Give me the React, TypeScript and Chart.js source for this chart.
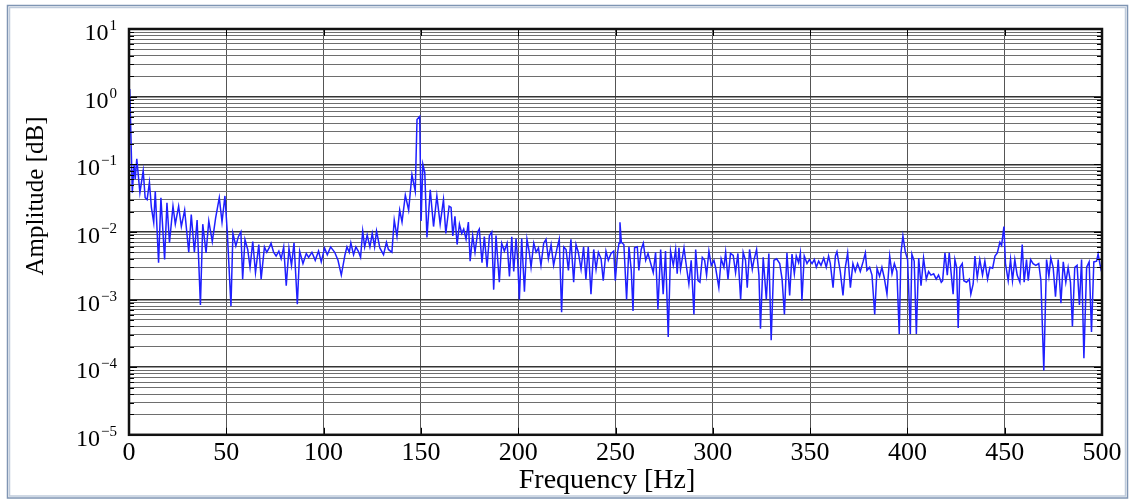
import React, { useEffect, useRef } from "react";
import { Chart, registerables } from "chart.js";

Chart.register(...registerables);

// ---- data ----
const freqHz: number[] = [
  0.4, 1.7, 2.6, 3.2, 4, 5.6, 7.3, 8.3, 9.3, 10.5, 11.5, 12.7, 13.5, 15.2, 16.4, 18.3, 19.5, 20.8, 22.6, 23.8,
  25.5, 26.9, 28.6, 30.7, 32, 33.6, 35, 36.7, 37.9, 39.6, 41, 42.8, 44.5, 46.4, 47.8, 49.3, 50.5, 52.4, 53.4, 54.9,
  56.2, 57.5, 58.4, 59.6, 61, 62.2, 63.6, 65, 66.7, 67.9, 69.6, 70.8, 72, 73, 74.3, 75.6, 77, 78.2, 79.5, 80.8,
  82.2, 83.5, 84.8, 86.5, 87.7, 89.4, 91.1, 92.3, 94, 95.7, 97.4, 98.8, 100.5, 101.9, 103.6, 105.7, 107.4, 109.1, 111, 112,
  113.2, 114, 115.4, 116.6, 117.8, 119, 120.1, 121.1, 122.4, 123.8, 125, 126.2, 127.2, 128.9, 130.8, 132.3, 133.3, 135.1, 136.3, 137.7,
  139.1, 140.3, 142, 143.7, 145.4, 147.1, 148, 149.4, 150.1, 151, 152, 153.1, 154.8, 156.5, 158.2, 159.9, 161.6, 162.8, 164.5, 165.5,
  166.4, 167.5, 168.6, 169.8, 171, 172, 173.2, 174.4, 175.3, 176.6, 177.8, 179.2, 180, 181.4, 182.6, 184, 185.2, 186.4, 187.4, 188.6,
  190.3, 191.5, 192.9, 194.3, 195.5, 196.7, 197.7, 198.9, 199.7, 200.6, 201.8, 203.2, 204.5, 205.7, 206.6, 208, 209.2, 210.4, 211.7, 213.1,
  214.3, 215.5, 216.9, 218.2, 220, 221.1, 222.3, 223.4, 224.6, 225.8, 227.1, 228.5, 229.7, 230.9, 232.3, 233.6, 234.8, 236, 237.4, 238.8,
  240, 241.2, 242.6, 243.7, 245.1, 246.3, 247.7, 249.1, 249.9, 251.1, 251.8, 252.3, 253, 254.3, 255.7, 256.9, 258.1, 259, 259.8, 261.2,
  262, 263.2, 264.3, 265.5, 266.7, 268, 269.4, 270.6, 271.8, 273.2, 274.5, 275.7, 277.1, 278.3, 279.7, 280.9, 281.7, 282.6, 283.4, 285.2,
  286.5, 287.7, 288.9, 290.3, 291.2, 292.4, 293.4, 294.6, 295.8, 296.8, 298, 299.2, 300.6, 301.4, 303.1, 304.3, 305.7, 306.6, 307.8, 309.1,
  310.5, 311.7, 312.9, 314.3, 315.6, 316.8, 317.7, 318.9, 320.3, 321.1, 322.5, 323.7, 324.5, 325.9, 327.5, 328.8, 330, 331.4, 332.8, 334.4,
  335.6, 336.8, 338.1, 339.5, 340.7, 341.9, 342.9, 344.1, 345, 345.8, 347, 348.4, 349.6, 351, 352.2, 353.2, 354.4, 355.6, 357, 358.3,
  359.5, 360.4, 361.8, 363, 363.8, 365.5, 366.9, 368.1, 369.3, 370.7, 372, 373.2, 374.4, 375.8, 377.2, 378.4, 379.2, 380.6, 381.8, 383.2,
  384.4, 385.7, 386.9, 388.1, 389.5, 390.9, 392.1, 393.3, 394.6, 395.8, 396.7, 397.7, 398.9, 400.1, 401.5, 402.3, 403.5, 404.6, 405.8, 407,
  408.3, 409.7, 410.9, 412.1, 413.5, 414.8, 416, 417.4, 418.1, 419.3, 420.5, 421.5, 422.7, 423.5, 424.4, 425.3, 426.1, 427, 428.2, 429,
  430.4, 431.8, 432.6, 433.8, 434.7, 435.9, 437.2, 438.6, 439.8, 441.2, 442.4, 443.8, 445, 446.2, 447.5, 448.4, 449.6, 450.4, 451.8, 453,
  454, 455.2, 456.4, 457.8, 459, 460, 461.2, 462.1, 463.3, 464.6, 466, 467.5, 468.6, 470.1, 471.5, 472.7, 473.7, 474.9, 476.1, 477.5,
  478.9, 480.1, 481.4, 482.6, 483.8, 484.8, 486, 487.2, 488.4, 489.5, 490.7, 492.1, 493.4, 494.6, 495.8, 497.2, 498, 498.9, 499.7,
];

const amplitude: number[] = [
  1.3, 0.038, 0.1, 0.06, 0.12, 0.038, 0.08, 0.032, 0.03, 0.054, 0.023, 0.0138, 0.04, 0.0035, 0.032, 0.0039, 0.027, 0.0069, 0.024, 0.013,
  0.024, 0.012, 0.021, 0.005, 0.018, 0.005, 0.015, 0.00083, 0.013, 0.0049, 0.0145, 0.0072, 0.016, 0.032, 0.014, 0.034, 0.01, 0.0008, 0.0095, 0.0062,
  0.0085, 0.01, 0.002, 0.0077, 0.0055, 0.003, 0.0072, 0.0025, 0.0065, 0.002, 0.006, 0.005, 0.0058, 0.0068, 0.005, 0.0044, 0.0052, 0.004, 0.006, 0.0016,
  0.0057, 0.0032, 0.0069, 0.00085, 0.0052, 0.0034, 0.0048, 0.0042, 0.005, 0.0038, 0.0052, 0.0036, 0.0058, 0.0046, 0.006, 0.005, 0.0038, 0.0023, 0.0046, 0.006,
  0.005, 0.0069, 0.0046, 0.006, 0.0052, 0.0042, 0.0103, 0.006, 0.009, 0.006, 0.0095, 0.006, 0.0103, 0.0058, 0.0046, 0.007, 0.0055, 0.005, 0.015, 0.0086,
  0.021, 0.014, 0.035, 0.021, 0.07, 0.04, 0.46, 0.51, 0.0145, 0.1, 0.075, 0.0083, 0.042, 0.012, 0.034, 0.013, 0.03, 0.0095, 0.024, 0.023,
  0.0087, 0.017, 0.0065, 0.013, 0.0095, 0.011, 0.0078, 0.014, 0.0037, 0.0088, 0.005, 0.01, 0.011, 0.0035, 0.0085, 0.003, 0.0088, 0.01, 0.0014, 0.0088,
  0.0018, 0.0068, 0.0052, 0.0068, 0.0022, 0.0085, 0.0026, 0.008, 0.004, 0.001, 0.008, 0.0013, 0.0078, 0.005, 0.003, 0.0068, 0.005, 0.0058, 0.0032, 0.0068,
  0.0078, 0.004, 0.0065, 0.0032, 0.0058, 0.0078, 0.00065, 0.006, 0.0055, 0.0027, 0.0078, 0.0018, 0.0065, 0.005, 0.0028, 0.006, 0.002, 0.006, 0.0012, 0.0055,
  0.0028, 0.005, 0.004, 0.0019, 0.0052, 0.0038, 0.0048, 0.0052, 0.0019, 0.005, 0.0068, 0.0139, 0.007, 0.0065, 0.001, 0.006, 0.0027, 0.00068, 0.0058, 0.006,
  0.0027, 0.0055, 0.0068, 0.0038, 0.0048, 0.0035, 0.0025, 0.005, 0.00072, 0.0055, 0.0012, 0.0052, 0.00028, 0.0052, 0.0032, 0.0055, 0.0024, 0.0058, 0.0028, 0.0058,
  0.003, 0.0017, 0.0038, 0.0006, 0.0055, 0.0019, 0.0018, 0.0042, 0.0038, 0.0023, 0.0052, 0.0032, 0.0038, 0.003, 0.0015, 0.004, 0.003, 0.005, 0.002, 0.0048,
  0.0045, 0.0025, 0.0048, 0.001, 0.005, 0.0038, 0.0015, 0.0055, 0.0028, 0.0038, 0.0055, 0.0023, 0.00037, 0.0042, 0.001, 0.0048, 0.00025, 0.0038, 0.004, 0.0034,
  0.002, 0.0006, 0.0049, 0.00115, 0.0047, 0.0024, 0.0044, 0.0035, 0.0049, 0.00097, 0.0044, 0.0034, 0.0039, 0.0034, 0.0039, 0.003, 0.0037, 0.0032, 0.0041, 0.003,
  0.0044, 0.0034, 0.0015, 0.0044, 0.0051, 0.0026, 0.00115, 0.003, 0.0049, 0.0015, 0.0034, 0.0026, 0.0034, 0.0026, 0.0036, 0.0049, 0.0027, 0.003, 0.0023, 0.0006,
  0.0029, 0.0022, 0.003, 0.0021, 0.0012, 0.0044, 0.0024, 0.0034, 0.0026, 0.00031, 0.0049, 0.0087, 0.0051, 0.0039, 0.00031, 0.0047, 0.0037, 0.00031, 0.0041, 0.0016,
  0.0041, 0.002, 0.0026, 0.0023, 0.0024, 0.002, 0.0023, 0.0018, 0.0019, 0.0049, 0.0023, 0.0049, 0.0021, 0.0012, 0.0039, 0.003, 0.00038, 0.003, 0.0034, 0.0019,
  0.0018, 0.002, 0.0012, 0.0017, 0.0044, 0.0021, 0.0039, 0.0023, 0.0037, 0.002, 0.003, 0.0029, 0.0044, 0.0049, 0.007, 0.0063, 0.012, 0.0034, 0.0019, 0.0039,
  0.0019, 0.0039, 0.0023, 0.0018, 0.0065, 0.0018, 0.0039, 0.0019, 0.0039, 0.0034, 0.0032, 0.0034, 0.0019, 0.000089, 0.0039, 0.0022, 0.0041, 0.003, 0.0011, 0.0039,
  0.00088, 0.0036, 0.0018, 0.003, 0.0018, 0.0004, 0.003, 0.0032, 0.00083, 0.0039, 0.000135, 0.003, 0.0036, 0.00033, 0.0036, 0.0037, 0.0047, 0.0034, 0.0026,
];

const xTickValues: number[] = [0, 50, 100, 150, 200, 250, 300, 350, 400, 450, 500];
const yDecadeExponents: number[] = [-5, -4, -3, -2, -1, 0, 1];
const yMantissas: number[] = [1, 2, 3, 4, 5, 6, 7, 8, 9];
const xAxisTitle = "Frequency [Hz]";
const yAxisTitle = "Amplitude [dB]";

const SERIF = '"Liberation Serif", "Times New Roman", serif';

const yGridValues: number[] = [];
yDecadeExponents.forEach((e) => {
  if (e === yDecadeExponents[yDecadeExponents.length - 1]) {
    yGridValues.push(Math.pow(10, e));
  } else {
    yMantissas.forEach((m) => yGridValues.push(m * Math.pow(10, e)));
  }
});

const isDecade = (v: number) => {
  const l = Math.log10(v);
  return Math.abs(l - Math.round(l)) < 1e-6;
};

const decorPlugin = {
  id: "decor",
  beforeDraw(chart: any) {
    const ctx = chart.ctx;
    ctx.save();
    ctx.fillStyle = "#ffffff";
    ctx.fillRect(0, 0, chart.width, chart.height);
    // outer picture frame
    ctx.strokeStyle = "#7f95b3";
    ctx.lineWidth = 1.5;
    ctx.strokeRect(7.5, 5.5, 1120, 492.5);
    ctx.strokeStyle = "#bfcbdb";
    ctx.lineWidth = 1.5;
    ctx.strokeRect(9.5, 7.5, 1116, 488.5);
    ctx.restore();
  },
  afterDraw(chart: any) {
    const ctx = chart.ctx;
    const area = chart.chartArea;
    const yScale = chart.scales.y;
    const xScale = chart.scales.x;
    ctx.save();
    // inward tick marks
    ctx.strokeStyle = "#000";
    ctx.lineWidth = 1;
    yGridValues.forEach((v) => {
      const y = Math.round(yScale.getPixelForValue(v)) + 0.5;
      const len = isDecade(v) ? 8 : 5;
      ctx.beginPath();
      ctx.moveTo(area.left, y);
      ctx.lineTo(area.left + len, y);
      ctx.moveTo(area.right, y);
      ctx.lineTo(area.right - len, y);
      ctx.stroke();
    });
    xTickValues.forEach((v) => {
      const x = Math.round(xScale.getPixelForValue(v)) + 0.5;
      ctx.beginPath();
      ctx.moveTo(x, area.top);
      ctx.lineTo(x, area.top + 7);
      ctx.moveTo(x, area.bottom);
      ctx.lineTo(x, area.bottom - 7);
      ctx.stroke();
    });
    // plot frame
    ctx.lineWidth = 2.5;
    ctx.strokeStyle = "#111";
    ctx.strokeRect(area.left, area.top, area.right - area.left, area.bottom - area.top);

    // y tick labels with superscript exponents
    ctx.fillStyle = "#000";
    ctx.textBaseline = "alphabetic";
    yDecadeExponents.forEach((e) => {
      const y = yScale.getPixelForValue(Math.pow(10, e));
      const expText = e < 0 ? "\u2212" + Math.abs(e) : String(e);
      ctx.font = `15px ${SERIF}`;
      const expW = ctx.measureText(expText).width;
      const rightEdge = 117;
      ctx.textAlign = "right";
      ctx.fillText(expText, rightEdge, y + 1);
      ctx.font = `24px ${SERIF}`;
      ctx.fillText("10", rightEdge - expW - 1, y + 11);
    });

    // axis titles
    ctx.textAlign = "center";
    ctx.textBaseline = "middle";
    ctx.font = `28px ${SERIF}`;
    ctx.fillText(xAxisTitle, 607, 481);
    ctx.save();
    ctx.translate(36, 196);
    ctx.rotate(-Math.PI / 2);
    ctx.font = `25px ${SERIF}`;
    ctx.fillText(yAxisTitle, 0, 0);
    ctx.restore();
    ctx.restore();
  },
};

export default function App() {
  const canvasRef = useRef<HTMLCanvasElement | null>(null);

  useEffect(() => {
    document.body.style.margin = "0";
    const canvas = canvasRef.current;
    if (!canvas) return;
    const points = freqHz.map((f, i) => ({ x: f, y: amplitude[i] }));
    const chart = new Chart(canvas, {
      type: "line",
      data: {
        datasets: [
          {
            data: points,
            borderColor: "#1f1fff",
            borderWidth: 1.5,
            pointRadius: 0,
            tension: 0,
            fill: false,
          },
        ],
      },
      options: {
        animation: false,
        responsive: false,
        maintainAspectRatio: false,
        layout: { padding: { left: 129, top: 29, right: 33, bottom: 28 } },
        plugins: { legend: { display: false }, tooltip: { enabled: false } },
        scales: {
          x: {
            type: "linear",
            min: 0,
            max: 500,
            afterBuildTicks: (s: any) => {
              s.ticks = xTickValues.map((v) => ({ value: v }));
            },
            grid: { color: "#555", lineWidth: 1, drawTicks: false },
            border: { display: false },
            ticks: {
              color: "#000",
              font: { family: SERIF, size: 26 },
              padding: 3,
              maxRotation: 0,
              autoSkip: false,
            },
          },
          y: {
            type: "logarithmic",
            min: 1e-5,
            max: 10,
            afterBuildTicks: (s: any) => {
              s.ticks = yGridValues.map((v) => ({ value: v }));
            },
            grid: {
              color: (c: any) => (c.tick && isDecade(c.tick.value) ? "#333" : "#6e6e6e"),
              lineWidth: (c: any) => (c.tick && isDecade(c.tick.value) ? 1.4 : 1.1),
              drawTicks: false,
            },
            border: { display: false },
            ticks: { display: false },
          },
        },
      },
      plugins: [decorPlugin],
    } as any);
    return () => chart.destroy();
  }, []);

  return (
    <div style={{ width: 1135, height: 500 }}>
      <canvas ref={canvasRef} width={1135} height={500} style={{ display: "block" }} />
    </div>
  );
}
